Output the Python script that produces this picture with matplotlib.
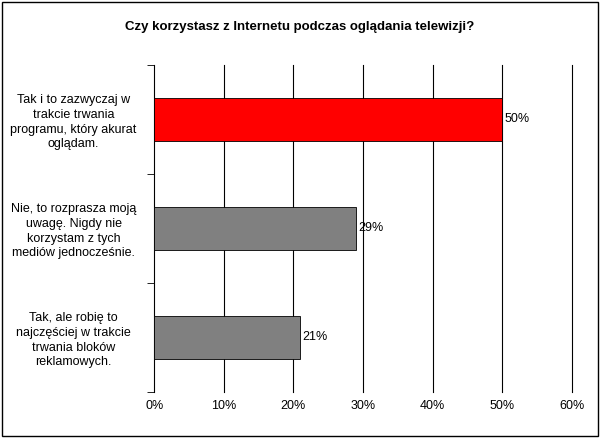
import matplotlib.pyplot as plt
from matplotlib.patches import Rectangle

title = "Czy korzystasz z Internetu podczas oglądania telewizji?"
categories = [
    "Tak i to zazwyczaj w\ntrakcie trwania\nprogramu, który akurat\noglądam.",
    "Nie, to rozprasza moją\nuwagę. Nigdy nie\nkorzystam z tych\nmediów jednocześnie.",
    "Tak, ale robię to\nnajczęściej w trakcie\ntrwania bloków\nreklamowych.",
]
values = [50, 29, 21]
colors = ["#ff0000", "#808080", "#808080"]
xticks = [0, 10, 20, 30, 40, 50, 60]

plt.rcParams["font.family"] = ["Liberation Sans", "DejaVu Sans"]
fig = plt.figure(figsize=(6, 4.38), dpi=100)
fig.patches.append(Rectangle((0.004, 0.004), 0.992, 0.992, transform=fig.transFigure,
                             fill=False, edgecolor="black", linewidth=1))
ax = fig.add_axes([0.257, 0.105, 0.696, 0.747])

ypos = list(range(len(values)))
ax.barh(ypos, values, height=0.4, color=colors, edgecolor="black", linewidth=0.6, zorder=3)
for y, v in zip(ypos, values):
    ax.text(v + 0.3, y, f"{v}%", va="center", ha="left", fontsize=9, zorder=4)

ax.set_xlim(0, 60)
ax.set_ylim(2.5, -0.5)
ax.set_xticks(xticks)
ax.set_xticklabels([f"{t}%" for t in xticks], fontsize=9)
for t in xticks[1:]:
    ax.axvline(t, color="black", linewidth=0.8, zorder=0, clip_on=False)
ax.set_yticks(ypos)
ax.set_yticklabels(categories, fontsize=9, ha="center", linespacing=1.3)
ax.tick_params(axis="y", length=0, pad=58)
ax.set_yticks([-0.5, 0.5, 1.5, 2.5], minor=True)
ax.tick_params(axis="y", which="minor", length=5, direction="out")
ax.tick_params(axis="x", length=0, pad=6)
for s in ["top", "right", "bottom"]:
    ax.spines[s].set_visible(False)
ax.spines["left"].set_linewidth(0.8)

fig.text(0.5, 0.938, title, ha="center", va="center", fontsize=9.5, fontweight="bold")
fig.savefig("out.png", dpi=100)
